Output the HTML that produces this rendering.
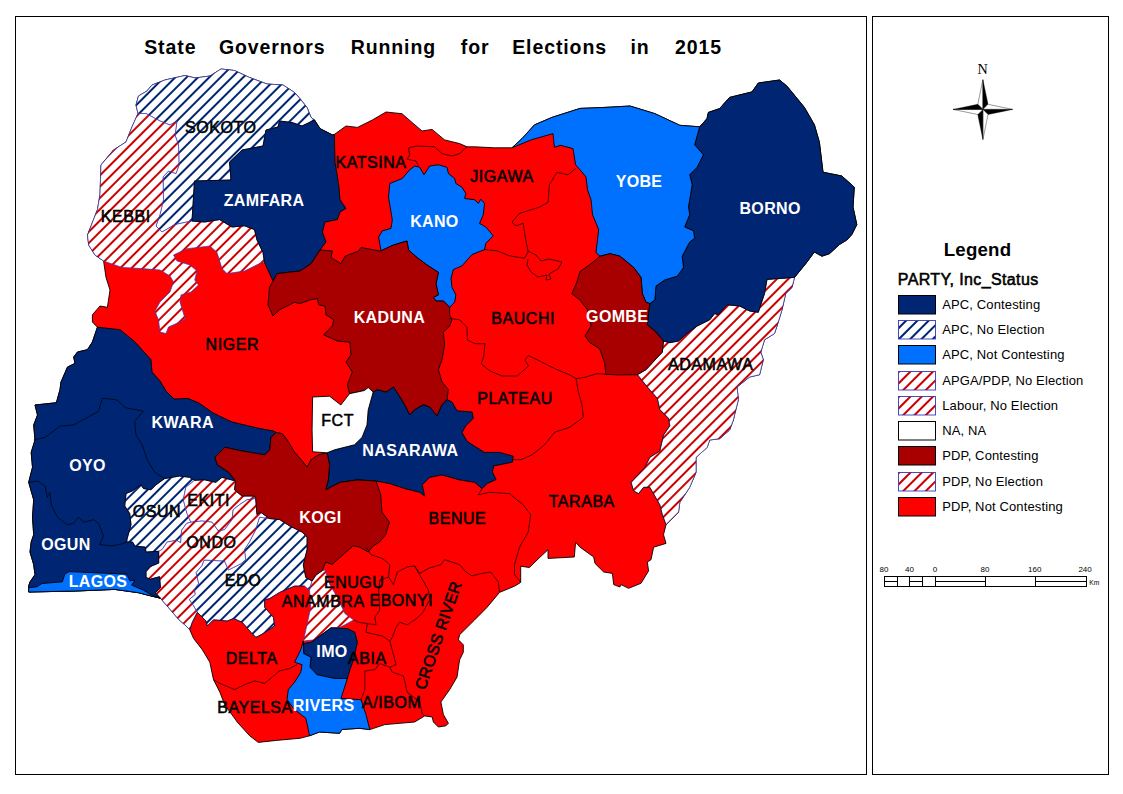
<!DOCTYPE html>
<html><head><meta charset="utf-8"><title>State Governors Running for Elections in 2015</title>
<style>
html,body{margin:0;padding:0;background:#fff;}
body{width:1123px;height:794px;overflow:hidden;position:relative;font-family:"Liberation Sans",sans-serif;}
svg{position:absolute;left:0;top:0;}
text{font-family:"Liberation Sans",sans-serif;}
.lk{font-size:16px;fill:#000;stroke:#000;stroke-width:0.55px;text-anchor:middle;dominant-baseline:central;letter-spacing:0.55px;}
.lw{font-size:16px;fill:#fff;font-weight:bold;text-anchor:middle;dominant-baseline:central;letter-spacing:0.35px;}
.title{font-size:19.5px;font-weight:bold;letter-spacing:0.9px;}
.lg1{font-size:18.67px;font-weight:bold;text-anchor:middle;letter-spacing:0.2px;}
.lg2{font-size:16px;stroke:#000;stroke-width:0.55px;letter-spacing:0.38px;}
.li{font-size:13px;letter-spacing:0.13px;}
.sc{font-size:8px;text-anchor:middle;}
.km{font-size:6.67px;}
.nn{font-family:"Liberation Serif",serif;font-size:14.2px;text-anchor:middle;}
</style></head><body>
<svg width="1123" height="794" viewBox="0 0 1123 794">
<rect x="15.5" y="16.5" width="851" height="758" fill="#fff" stroke="#000" stroke-width="1"/>
<rect x="872.5" y="16.5" width="236" height="758" fill="#fff" stroke="#000" stroke-width="1"/>
<text x="144.2" y="54.4" class="title">State</text><text x="218.9" y="54.4" class="title">Governors</text><text x="350.7" y="54.4" class="title">Running</text><text x="460.8" y="54.4" class="title">for</text><text x="512.2" y="54.4" class="title">Elections</text><text x="630.4" y="54.4" class="title">in</text><text x="675" y="54.4" class="title">2015</text>
<defs>
<pattern id="hn" width="8" height="8" patternUnits="userSpaceOnUse" patternTransform="rotate(-45) translate(0,-1.35)"><rect width="8" height="8" fill="#fff"/><line x1="-1" y1="4" x2="9" y2="4" stroke="#002673" stroke-width="2.05"/></pattern>
<pattern id="hr" width="8" height="8" patternUnits="userSpaceOnUse" patternTransform="rotate(-45) translate(0,-1.35)"><rect width="8" height="8" fill="#fff"/><line x1="-1" y1="4" x2="9" y2="4" stroke="#CC0000" stroke-width="2.05"/></pattern>
</defs>
<polygon points="138.0,113.5 136.0,105.0 138.5,96.0 147.0,91.0 152.0,85.0 165.0,80.0 185.0,75.5 195.0,78.0 210.0,76.0 221.0,69.0 234.5,70.5 249.5,77.5 267.0,84.0 283.0,85.0 294.5,92.5 300.0,98.7 307.0,107.5 311.0,117.4 314.5,120.0 320.0,128.6 332.4,134.9 334.4,134.4 346.0,126.0 357.4,127.4 372.3,120.0 386.0,112.0 402.0,113.7 412.0,122.4 422.0,131.0 432.0,129.4 444.6,139.9 459.6,143.6 467.0,146.8 474.6,146.8 494.5,147.8 512.0,147.8 522.0,138.6 534.4,124.9 551.9,117.4 580.0,108.4 605.0,107.4 630.0,106.0 654.8,113.6 679.8,125.3 699.7,126.8 707.0,118.6 708.4,112.4 719.6,108.6 729.6,97.4 752.0,91.9 758.3,83.0 779.5,80.0 787.0,86.2 804.4,107.4 814.4,124.8 819.4,142.3 823.0,172.2 841.8,176.0 854.3,187.2 853.0,207.0 856.8,224.6 851.8,234.6 846.8,240.0 839.4,244.5 829.4,253.7 821.9,256.2 814.4,252.0 805.7,263.7 794.5,277.4 792.0,287.4 785.7,293.6 782.0,309.8 777.0,326.0 774.5,333.5 764.5,339.8 760.8,352.2 763.3,359.7 759.6,374.7 749.6,377.0 737.0,387.0 738.4,399.6 734.6,414.6 733.4,420.0 729.6,430.0 719.6,438.7 709.7,440.0 707.2,447.4 696.0,457.4 696.0,472.4 689.7,487.3 679.8,502.3 678.5,512.3 666.0,524.7 663.5,534.7 666.0,543.4 653.6,547.2 651.0,559.7 647.3,562.0 648.6,570.9 641.0,583.3 628.6,588.3 621.0,584.6 619.9,587.0 613.7,584.6 612.4,573.4 603.7,572.0 595.0,563.4 593.7,557.0 580.0,547.2 575.6,542.2 574.3,557.0 548.0,558.4 548.0,549.7 537.0,560.0 529.4,567.5 520.7,566.2 520.7,582.4 514.5,586.2 499.5,592.4 487.0,607.4 474.6,619.9 459.6,634.8 458.4,639.8 463.3,644.8 463.3,652.3 459.6,659.8 457.0,677.2 449.6,689.7 440.9,702.0 443.4,714.6 448.4,723.3 445.9,725.8 438.4,727.0 433.4,722.0 432.2,717.0 424.7,715.9 414.7,722.0 399.8,723.3 384.8,724.6 369.8,729.6 359.4,728.3 342.0,729.5 339.5,733.3 319.5,732.0 309.5,735.8 300.0,738.3 276.3,740.4 258.3,742.4 249.7,735.8 237.2,722.0 224.7,704.6 219.8,692.0 213.5,679.7 209.8,662.2 202.3,649.7 193.6,638.5 189.8,629.8 184.8,624.8 179.0,619.8 168.9,608.0 160.4,598.2 150.0,595.7 138.4,592.7 114.7,589.4 75.8,591.0 28.7,592.0 28.7,585.8 30.0,582.0 35.0,574.6 33.7,564.6 30.0,552.0 31.2,542.0 33.7,534.7 32.5,517.2 33.7,499.8 28.7,482.3 32.5,467.3 31.2,452.4 35.0,440.0 33.7,425.0 37.5,415.0 35.0,405.0 56.4,402.7 60.0,389.6 61.0,382.0 67.5,367.0 75.0,363.4 73.7,357.0 77.5,352.0 87.4,349.7 92.4,342.0 97.4,327.2 92.4,322.0 92.4,314.8 100.0,306.0 107.4,307.3 110.0,290.0 106.0,277.4 103.6,261.0 95.0,255.0 88.7,245.0 87.5,235.0 97.5,209.5 100.0,194.5 101.0,165.0 113.5,150.0 126.0,142.0 132.0,127.0" fill="#FF0000" stroke="#000" stroke-width="0.9" stroke-linejoin="round"/>
<polygon points="138.0,113.5 136.0,105.0 138.5,96.0 147.0,91.0 152.0,85.0 165.0,80.0 185.0,75.5 195.0,78.0 210.0,76.0 221.0,69.0 234.5,70.5 249.5,77.5 267.0,84.0 283.0,85.0 294.5,92.5 300.0,98.7 307.0,107.5 311.0,117.4 314.5,120.0 302.0,126.0 292.0,122.5 279.5,121.0 278.0,127.0 266.0,130.0 263.0,146.0 242.0,150.0 229.5,162.0 231.0,180.0 194.5,181.0 192.0,221.0 175.0,224.5 162.0,232.0 156.0,226.0 160.0,214.5 163.5,199.5 163.0,177.0 168.5,171.0 176.0,173.5 179.0,165.0 178.5,145.0 175.0,135.0 177.0,121.0 170.0,125.0 160.0,121.0 146.0,113.5" fill="url(#hn)" stroke="#3838B8" stroke-width="0.7" stroke-linejoin="round"/>
<polygon points="126.0,493.5 132.2,491.0 141.0,484.8 143.4,488.5 151.0,489.8 156.0,484.8 164.6,478.6 179.6,476.0 189.6,477.3 194.6,480.3 185.8,487.3 183.3,499.8 187.0,513.5 190.8,522.2 186.7,523.4 181.6,530.2 180.7,542.8 176.5,540.3 167.2,542.0 162.0,549.6 158.7,551.3 146.0,552.1 145.2,547.1 135.0,546.2 132.5,542.0 126.6,542.0 127.2,538.4 131.0,524.7 129.7,513.5 124.7,506.0" fill="url(#hn)" stroke="#3838B8" stroke-width="0.7" stroke-linejoin="round"/>
<polygon points="269.4,518.5 279.7,519.6 289.7,525.9 302.1,532.1 307.1,537.1 307.1,549.6 303.3,565.0 305.8,577.4 312.0,581.0 309.5,589.9 304.5,586.1 294.6,586.1 279.6,592.4 269.6,598.6 264.6,599.9 264.6,607.3 273.4,617.3 274.6,626.0 263.4,633.5 255.9,637.3 250.9,632.3 242.2,622.3 233.5,618.5 227.2,621.0 213.5,619.8 207.3,626.0 206.0,621.0 197.3,612.3 193.0,605.0 189.2,599.5 195.1,594.5 194.3,589.4 198.5,583.5 196.0,572.5 201.9,565.7 204.0,560.0 224.5,561.0 228.5,569.9 233.5,567.4 241.0,563.7 245.7,559.6 244.4,549.6 249.4,542.0 255.7,529.7 259.4,517.2" fill="url(#hn)" stroke="#3838B8" stroke-width="0.7" stroke-linejoin="round"/>
<polygon points="138.0,113.5 146.0,113.5 160.0,121.0 170.0,125.0 177.0,121.0 175.0,135.0 178.5,145.0 179.0,165.0 176.0,173.5 168.5,171.0 163.0,177.0 163.5,199.5 160.0,214.5 156.0,226.0 162.0,232.0 175.0,224.5 192.0,221.0 204.6,222.0 219.6,219.6 232.0,227.0 244.5,225.8 254.5,229.6 257.0,240.0 263.0,252.4 264.5,262.4 259.5,263.6 244.5,271.0 227.0,273.6 222.0,268.6 217.0,252.4 210.0,246.0 187.0,248.7 173.5,255.0 177.0,261.0 190.0,265.0 197.0,271.0 194.7,280.0 198.4,285.0 191.0,292.0 181.0,295.0 180.0,302.0 185.0,318.5 182.0,321.0 168.5,327.0 166.0,333.5 160.0,332.0 158.5,320.0 155.0,311.0 160.0,302.0 170.0,292.0 173.5,282.0 170.0,276.0 160.0,270.0 142.0,268.6 122.0,267.4 103.6,261.0 95.0,255.0 88.7,245.0 87.5,235.0 97.5,209.5 100.0,194.5 101.0,165.0 113.5,150.0 126.0,142.0 132.0,127.0" fill="url(#hr)" stroke="#3838B8" stroke-width="0.7" stroke-linejoin="round"/>
<polygon points="194.6,480.3 204.5,479.8 215.8,482.3 222.0,477.3 235.7,481.0 234.5,489.8 242.0,496.0 254.4,496.0 255.7,498.5 247.0,499.8 239.5,504.7 233.2,509.7 232.0,519.7 224.5,529.7 218.3,531.0 212.0,522.2 202.0,521.0 190.8,522.2 187.0,513.5 183.3,499.8 185.8,487.3" fill="url(#hr)" stroke="#3838B8" stroke-width="0.7" stroke-linejoin="round"/>
<polygon points="190.8,522.2 202.0,521.0 212.0,522.2 218.3,531.0 224.5,529.7 232.0,519.7 233.2,509.7 239.5,504.7 247.0,499.8 255.7,498.5 257.0,514.7 260.6,512.2 269.4,518.5 259.4,517.2 255.7,529.7 249.4,542.0 244.4,549.6 245.7,559.6 241.0,563.7 233.5,567.4 228.5,569.9 224.5,561.0 204.0,560.0 201.9,565.7 196.0,572.5 198.5,583.5 194.3,589.4 195.1,594.5 189.2,599.5 193.0,605.0 197.3,612.3 192.3,622.3 189.8,629.8 184.8,624.8 179.0,619.8 168.9,608.0 160.4,598.2 155.3,592.7 160.4,587.7 159.6,576.7 150.3,579.2 146.0,577.5 146.0,571.6 150.3,566.5 158.7,563.1 158.7,551.3 162.0,549.6 167.2,542.0 176.5,540.3 180.7,542.8 181.6,530.2 186.7,523.4" fill="url(#hr)" stroke="#3838B8" stroke-width="0.7" stroke-linejoin="round"/>
<polygon points="325.0,570.0 322.1,570.8 316.0,575.0 312.0,581.0 309.5,589.9 310.8,607.3 307.0,624.8 303.3,641.0 314.5,639.8 324.5,632.3 331.0,627.8 339.9,627.3 344.9,624.8 353.6,619.9 344.9,613.6 337.4,597.4 330.0,585.0" fill="url(#hr)" stroke="#3838B8" stroke-width="0.7" stroke-linejoin="round"/>
<polygon points="794.5,277.4 792.0,287.4 785.7,293.6 782.0,309.8 777.0,326.0 774.5,333.5 764.5,339.8 760.8,352.2 763.3,359.7 759.6,374.7 749.6,377.0 737.0,387.0 738.4,399.6 734.6,414.6 733.4,420.0 729.6,430.0 719.6,438.7 709.7,440.0 707.2,447.4 696.0,457.4 696.0,472.4 689.7,487.3 679.8,502.3 678.5,512.3 666.0,524.7 662.3,514.8 659.8,504.8 649.8,487.3 643.6,487.3 638.6,493.6 633.6,491.0 631.0,482.3 644.8,467.4 649.8,457.4 659.8,451.0 663.5,435.0 669.8,425.8 668.5,418.3 659.8,409.6 657.3,398.4 647.3,387.0 637.4,374.7 646.0,369.7 662.3,352.2 663.5,341.0 669.8,342.7 678.5,341.0 687.2,333.5 697.2,326.0 709.7,319.8 714.7,313.6 718.4,314.8 727.0,304.8 739.6,306.0 749.6,311.0 758.3,312.3 764.5,293.6 767.0,279.4" fill="url(#hr)" stroke="#3838B8" stroke-width="0.7" stroke-linejoin="round"/>
<polygon points="314.5,120.0 320.0,128.6 332.4,134.9 334.4,134.4 335.0,162.3 338.7,184.7 340.0,199.7 346.0,208.4 340.0,212.0 337.4,219.6 325.0,222.0 322.4,232.0 326.0,242.0 320.0,250.0 311.0,263.7 300.0,271.0 277.0,273.6 273.0,281.0 264.5,262.4 263.0,252.4 257.0,240.0 254.5,229.6 244.5,225.8 232.0,227.0 219.6,219.6 204.6,222.0 192.0,221.0 194.5,181.0 231.0,180.0 229.5,162.0 242.0,150.0 263.0,146.0 266.0,130.0 278.0,127.0 279.5,121.0 292.0,122.5 302.0,126.0" fill="#002673" stroke="#000" stroke-width="0.9" stroke-linejoin="round"/>
<polygon points="699.7,126.8 707.0,118.6 708.4,112.4 719.6,108.6 729.6,97.4 752.0,91.9 758.3,83.0 779.5,80.0 787.0,86.2 804.4,107.4 814.4,124.8 819.4,142.3 823.0,172.2 841.8,176.0 854.3,187.2 853.0,207.0 856.8,224.6 851.8,234.6 846.8,240.0 839.4,244.5 829.4,253.7 821.9,256.2 814.4,252.0 805.7,263.7 794.5,277.4 767.0,279.4 764.5,293.6 758.3,312.3 749.6,311.0 739.6,306.0 727.0,304.8 718.4,314.8 714.7,313.6 709.7,319.8 697.2,326.0 687.2,333.5 678.5,341.0 669.8,342.7 663.5,341.0 654.8,331.0 647.3,324.8 648.6,312.3 649.8,303.6 654.8,299.9 656.0,286.0 664.8,279.9 677.3,276.2 683.5,267.4 682.2,256.2 689.7,242.0 694.7,238.3 693.5,230.8 684.7,227.0 689.7,214.6 688.5,207.0 692.2,184.7 689.7,174.7 697.2,167.2 703.4,154.8 694.7,144.8" fill="#002673" stroke="#000" stroke-width="0.9" stroke-linejoin="round"/>
<polygon points="373.2,392.0 377.3,389.6 386.0,392.0 393.5,387.0 398.5,394.6 404.7,404.6 409.7,414.6 414.7,409.6 423.4,404.6 429.7,407.0 437.0,415.8 442.0,404.6 447.0,399.6 452.0,402.0 457.0,410.8 472.0,412.0 473.3,418.3 465.8,425.8 462.0,432.5 467.0,441.2 474.6,446.2 484.5,452.4 499.5,452.4 513.2,456.2 512.3,462.2 493.6,465.9 492.4,472.1 496.1,479.6 487.4,483.4 482.0,488.6 474.6,482.3 459.6,479.9 442.0,474.9 429.7,477.4 422.2,484.8 424.7,496.0 419.7,492.3 404.7,488.6 389.8,483.6 376.0,481.0 357.4,479.9 340.0,482.3 325.8,489.7 328.3,479.8 329.6,464.8 327.1,452.8 334.6,449.8 354.5,444.8 362.0,437.4 367.0,424.9 368.2,410.0" fill="#002673" stroke="#000" stroke-width="0.9" stroke-linejoin="round"/>
<polygon points="97.4,327.2 120.0,329.7 135.0,342.0 151.0,359.7 152.0,372.0 160.0,381.0 166.0,391.0 174.0,399.0 188.0,398.5 199.0,403.0 213.0,413.0 232.0,422.0 260.0,428.6 273.5,431.0 276.0,432.4 271.0,437.4 269.7,449.8 264.7,454.8 242.3,451.0 224.8,447.3 214.9,457.3 217.4,464.8 228.6,472.3 235.7,481.0 222.0,477.3 215.8,482.3 204.5,479.8 194.6,480.3 189.6,477.3 179.6,476.0 164.6,478.6 156.0,484.8 151.0,489.8 143.4,488.5 141.0,484.8 132.2,491.0 126.0,493.5 124.7,506.0 129.7,513.5 131.0,524.7 127.2,538.4 126.6,542.0 132.5,542.0 135.0,546.2 145.2,547.1 146.0,552.1 158.7,551.3 158.7,563.1 150.3,566.5 146.0,571.6 146.0,577.5 150.3,579.2 159.6,576.7 160.4,587.7 155.3,592.7 160.4,598.2 150.0,595.7 138.4,592.7 114.7,589.4 75.8,591.0 28.7,592.0 28.7,585.8 30.0,582.0 35.0,574.6 33.7,564.6 30.0,552.0 31.2,542.0 33.7,534.7 32.5,517.2 33.7,499.8 28.7,482.3 32.5,467.3 31.2,452.4 35.0,440.0 33.7,425.0 37.5,415.0 35.0,405.0 56.4,402.7 60.0,389.6 61.0,382.0 67.5,367.0 75.0,363.4 73.7,357.0 77.5,352.0 87.4,349.7 92.4,342.0" fill="#002673" stroke="#000" stroke-width="0.9" stroke-linejoin="round"/>
<polygon points="303.7,643.5 311.0,642.3 325.0,632.3 331.0,627.8 347.4,628.6 354.9,632.3 357.4,642.3 353.6,659.8 349.9,669.7 347.4,678.5 334.5,678.4 325.0,677.2 317.0,674.7 313.7,673.5 310.0,667.2 311.0,657.3 303.7,653.5" fill="#002673" stroke="#000" stroke-width="0.9" stroke-linejoin="round"/>
<polygon points="381.0,250.8 378.6,237.0 382.3,230.9 391.0,228.4 392.3,219.7 388.5,197.2 389.8,183.5 402.2,178.5 409.7,169.8 414.7,166.0 419.7,167.3 424.0,174.8 429.7,166.0 438.4,164.8 447.0,167.3 448.4,173.5 454.6,178.5 455.9,183.5 462.0,187.2 465.8,193.5 464.6,198.5 474.6,199.7 478.3,203.4 480.8,199.2 484.5,203.4 483.3,214.7 479.6,223.4 485.8,227.0 493.3,235.9 485.8,243.3 484.5,249.6 478.3,252.0 472.0,254.6 462.0,265.8 453.4,269.5 451.0,278.0 452.0,287.4 455.9,294.9 454.6,302.3 449.6,307.3 443.4,301.0 436.0,301.0 433.4,297.4 438.4,294.9 436.0,283.6 438.4,272.4 427.0,265.0 417.0,257.5 408.5,250.0 407.0,241.0 393.5,245.0" fill="#0070FF" stroke="#000" stroke-width="0.9" stroke-linejoin="round"/>
<polygon points="512.0,147.8 522.0,138.6 534.4,124.9 551.9,117.4 580.0,108.4 605.0,107.4 630.0,106.0 654.8,113.6 679.8,125.3 699.7,126.8 694.7,144.8 703.4,154.8 697.2,167.2 689.7,174.7 692.2,184.7 688.5,207.0 689.7,214.6 684.7,227.0 693.5,230.8 694.7,238.3 689.7,242.0 682.2,256.2 683.5,267.4 677.3,276.2 664.8,279.9 656.0,286.0 654.8,299.9 649.8,303.6 646.0,302.3 642.3,293.6 641.0,277.4 633.6,267.4 619.9,256.2 610.0,253.7 600.0,256.2 596.0,252.5 598.7,229.6 592.5,214.6 591.0,199.7 587.5,189.7 586.0,177.0 580.0,169.7 575.6,164.8 573.0,148.6 560.6,145.3 554.4,147.3 553.0,133.6 531.0,139.9" fill="#0070FF" stroke="#000" stroke-width="0.9" stroke-linejoin="round"/>
<polygon points="28.7,587.7 36.9,586.8 42.0,583.5 62.3,581.8 64.8,574.1 69.0,571.6 126.6,574.1 130.0,580.9 135.0,580.0 131.7,585.1 143.5,590.2 150.3,594.4 160.4,598.2 150.0,595.7 138.4,592.7 114.7,589.4 75.8,591.0 28.7,592.0" fill="#0070FF" stroke="#000" stroke-width="0.9" stroke-linejoin="round"/>
<polygon points="303.3,641.0 303.7,653.5 311.0,657.3 310.0,667.2 317.0,674.7 334.5,678.4 347.4,678.5 341.0,698.4 361.0,699.7 366.0,714.6 369.8,729.6 359.4,728.3 342.0,729.5 339.5,733.3 319.5,732.0 309.5,735.8 308.3,729.5 305.8,718.3 294.6,709.6 287.0,699.6 288.3,689.6 294.6,682.2 300.8,672.2 302.0,664.7 294.6,662.2 297.0,657.2 300.8,649.7" fill="#0070FF" stroke="#000" stroke-width="0.9" stroke-linejoin="round"/>
<polygon points="320.0,250.0 332.4,251.0 331.0,257.5 341.0,263.7 345.0,256.2 358.6,251.0 361.0,247.5 379.8,251.0 381.0,250.8 393.5,245.0 407.0,241.0 408.5,250.0 417.0,257.5 427.0,265.0 438.4,272.4 436.0,283.6 438.4,294.9 433.4,297.4 436.0,301.0 443.4,301.0 449.6,307.3 449.6,314.8 452.0,319.8 449.6,326.0 443.4,332.3 444.6,344.7 442.0,359.7 438.4,369.7 442.0,382.0 448.4,389.6 447.0,399.6 442.0,404.6 437.0,415.8 429.7,407.0 423.4,404.6 414.7,409.6 409.7,414.6 404.7,404.6 398.5,394.6 393.5,387.0 386.0,392.0 377.3,389.6 373.2,392.0 368.2,387.5 364.5,390.5 349.5,393.7 347.4,384.6 352.4,372.0 346.0,362.0 351.0,354.7 349.9,342.2 337.4,341.0 323.7,334.8 332.4,326.0 333.7,319.8 326.0,314.8 325.0,306.0 318.7,304.8 317.5,298.6 310.0,299.9 300.0,303.6 294.4,302.3 279.5,309.8 273.0,316.0 268.0,304.8 269.5,287.3 273.0,281.0 277.0,273.6 300.0,271.0 311.0,263.7" fill="#A80000" stroke="#000" stroke-width="0.9" stroke-linejoin="round"/>
<polygon points="600.0,256.2 610.0,253.7 619.9,256.2 633.6,267.4 641.0,277.4 642.3,293.6 646.0,302.3 649.8,303.6 648.6,312.3 647.3,324.8 654.8,331.0 663.5,341.0 662.3,352.2 646.0,369.7 637.4,374.7 619.6,374.9 605.8,374.4 604.6,362.4 599.6,348.7 589.6,342.5 585.0,336.0 591.0,326.0 587.5,309.8 580.0,300.0 571.8,293.6 576.8,282.4 580.0,271.5 591.0,263.7" fill="#A80000" stroke="#000" stroke-width="0.9" stroke-linejoin="round"/>
<polygon points="276.0,432.4 282.2,433.6 287.2,439.9 294.7,452.3 303.4,462.3 307.1,467.3 310.9,459.8 318.4,454.8 327.1,452.8 329.6,464.8 328.3,479.8 325.8,489.7 340.0,482.3 357.4,479.9 376.0,481.0 380.7,494.7 382.0,512.2 389.4,522.1 385.7,534.6 379.5,542.1 373.2,545.8 368.2,552.0 359.5,547.1 353.3,545.8 344.5,553.3 332.1,564.5 325.8,562.0 322.1,570.8 316.0,575.0 312.0,581.0 305.8,577.4 303.3,565.0 307.1,549.6 307.1,537.1 302.1,532.1 289.7,525.9 279.7,519.6 269.4,518.5 260.6,512.2 257.0,514.7 255.7,498.5 254.4,496.0 242.0,496.0 234.5,489.8 235.7,481.0 228.6,472.3 217.4,464.8 214.9,457.3 224.8,447.3 242.3,451.0 264.7,454.8 269.7,449.8 271.0,437.4" fill="#A80000" stroke="#000" stroke-width="0.9" stroke-linejoin="round"/>
<polygon points="349.5,393.7 364.5,390.5 368.2,387.5 373.2,392.0 368.2,410.0 367.0,424.9 362.0,437.4 354.5,444.8 334.6,449.8 327.1,452.8 312.6,451.8 312.1,429.9 312.6,397.0 329.6,396.2 340.8,405.0" fill="#fff" stroke="#000" stroke-width="0.9" stroke-linejoin="round"/>
<polyline points="467,146.8 459.6,153.6 452,156 442,153.6 434.7,146.8 417.2,146 408.5,147.8 409.7,154.8 407.2,159.3 416,161 418.5,166" fill="none" stroke="#000" stroke-width="0.7" stroke-linejoin="round"/>
<polyline points="575.6,168.5 568,174.8 556.9,172.3 549.4,184.7 548.1,202.2 539.4,207.2 519.5,213.4 512,222 515.7,225.9 523.2,223.4 525.7,239.6 528.2,252 524.4,258.3 509.5,255.8 497,250.8 484.5,249.6" fill="none" stroke="#000" stroke-width="0.7" stroke-linejoin="round"/>
<polyline points="528,251 536,255 541,261 549,259 562,262 558,269 549,274 551,279 546,280 547,275 538,277 531,272 527,265 528,259" fill="none" stroke="#000" stroke-width="0.7" stroke-linejoin="round"/>
<polyline points="449.6,318.5 459.6,319.8 467,327.3 467.4,340 475,343.7 485,343.7 483.6,357.4 481,363.7 490,371 502.3,376 517.3,376 528.5,366 524.8,360 528.5,355.7 539.8,361 554.7,368.6 569.7,374.9 576,378.6 584.6,377.4 597,373.6 605.8,374.4" fill="none" stroke="#000" stroke-width="0.7" stroke-linejoin="round"/>
<polyline points="576,378.6 578.4,392.3 582,404.8 583.4,417.3 569.7,427.3 554.7,432.2 544.7,444.7 532.3,454.7 521,459.7 512.3,459.7" fill="none" stroke="#000" stroke-width="0.7" stroke-linejoin="round"/>
<polyline points="482,488.6 478.3,494.8 489.5,492.3 509.5,493.6 523.2,504.8 530.7,514.8 528.2,532.2 519.5,547.2 514.5,564.6 514.5,574.6 520.7,582" fill="none" stroke="#000" stroke-width="0.7" stroke-linejoin="round"/>
<polyline points="366,547.2 371,554.7 382.3,558.4 389.8,564.6 388.5,577 393.5,584.6 397.3,572 407.2,567 414.7,565.9 419.7,573.4 428.4,568.4 440.9,564.6 444.6,559.7 459.6,564.6 465.8,572 472,575.9 482,573.4 490.8,572 498.3,582 499.5,592" fill="none" stroke="#000" stroke-width="0.7" stroke-linejoin="round"/>
<polyline points="414.7,566.2 419.7,575 428.4,589.9 429.7,599.9 422.2,613.6 414.7,619.9 407.2,624.8 399.8,622.3 396,627.3 392.3,637.3 389.8,641" fill="none" stroke="#000" stroke-width="0.7" stroke-linejoin="round"/>
<polyline points="388.5,577 379.8,580 378.6,592.4 379.8,609.9 374.8,617.4 376,624.8 367.3,623.6 366,632.3 382.3,636 389.8,641 393.5,654.8 396,664.7 389.8,667.2 392.3,672.2 403.5,676 407.2,692.2 419.7,702 422.2,713.4 424.7,715.9" fill="none" stroke="#000" stroke-width="0.7" stroke-linejoin="round"/>
<polyline points="389.8,667.2 379.8,663.5 374.8,669.7 364.8,671 364.8,689.7 361,699.7" fill="none" stroke="#000" stroke-width="0.7" stroke-linejoin="round"/>
<polyline points="353.6,619.9 358.6,622.3 367.3,623.6" fill="none" stroke="#000" stroke-width="0.7" stroke-linejoin="round"/>
<polyline points="213.5,679.7 219.8,683.4 234.7,689.6 244.7,684.6 254.7,680.9 264.6,683.4 279.6,670.9 289.6,668.4 297,664.7" fill="none" stroke="#000" stroke-width="0.7" stroke-linejoin="round"/>
<polyline points="33.7,440 45,437.4 59.9,426.2 73.6,424.9 87.3,417.5 98.6,411.2 102.4,398.3 113.6,399.5 117.3,400 124.7,407.5 143.4,411.2 134.7,421.2 136,434.9 142.2,444.9 147.2,459.9 154.7,472.3 164.6,478.6" fill="none" stroke="#000" stroke-width="0.7" stroke-linejoin="round"/>
<polyline points="28.7,482.3 37.5,481 45,486 47.4,497.3 50,492.3 51.2,504.7 57.4,517.2 67.4,524.7 73.6,523.4 78.6,517.2 83.6,522.2 93.6,519.7 98.6,523.4 103.5,535.9 99.8,544.6 112.3,545.9 122.2,543.8 126.6,542" fill="none" stroke="#000" stroke-width="0.7" stroke-linejoin="round"/>
<polyline points="666.0,524.7 662.3,514.8 659.8,504.8 649.8,487.3 643.6,487.3 638.6,493.6 633.6,491.0 631.0,482.3 644.8,467.4 649.8,457.4 659.8,451.0 663.5,435.0 669.8,425.8 668.5,418.3 659.8,409.6 657.3,398.4 647.3,387.0 637.4,374.7" fill="none" stroke="#000" stroke-width="0.7" stroke-linejoin="round"/>
<polyline points="304.5,586.1 294.6,586.1 279.6,592.4 269.6,598.6 264.6,599.9 264.6,607.3 273.4,617.3 274.6,626.0 263.4,633.5 255.9,637.3 250.9,632.3 242.2,622.3 233.5,618.5 227.2,621.0 213.5,619.8 207.3,626.0 206.0,621.0 197.3,612.3" fill="none" stroke="#000" stroke-width="0.7" stroke-linejoin="round"/>
<polyline points="197.3,612.3 192.3,622.3 189.8,629.8" fill="none" stroke="#000" stroke-width="0.7" stroke-linejoin="round"/>
<text x="220.8" y="127.3" class="lk">SOKOTO</text>
<text x="125.7" y="216.7" class="lk">KEBBI</text>
<text x="264.1" y="200.9" class="lw">ZAMFARA</text>
<text x="371" y="162" class="lk">KATSINA</text>
<text x="434.4" y="221.8" class="lw">KANO</text>
<text x="502" y="176.3" class="lk">JIGAWA</text>
<text x="639" y="181.8" class="lw">YOBE</text>
<text x="770.1" y="208" class="lw">BORNO</text>
<text x="389.4" y="317" class="lw">KADUNA</text>
<text x="523.2" y="318.2" class="lk">BAUCHI</text>
<text x="617.2" y="316" class="lw">GOMBE</text>
<text x="710.7" y="364.1" class="lk">ADAMAWA</text>
<text x="232.3" y="344.1" class="lk">NIGER</text>
<text x="515" y="398" class="lk">PLATEAU</text>
<text x="337.6" y="420.1" class="lk">FCT</text>
<text x="182.7" y="422" class="lw">KWARA</text>
<text x="410.4" y="450.9" class="lw">NASARAWA</text>
<text x="87.5" y="465.2" class="lw">OYO</text>
<text x="156.9" y="511.9" class="lk">OSUN</text>
<text x="208.7" y="500.1" class="lk">EKITI</text>
<text x="320.5" y="517.4" class="lw">KOGI</text>
<text x="457.4" y="518.1" class="lk">BENUE</text>
<text x="581.8" y="501.1" class="lk">TARABA</text>
<text x="211.4" y="542.5" class="lk">ONDO</text>
<text x="65.9" y="544.3" class="lw">OGUN</text>
<text x="98" y="581.7" class="lw">LAGOS</text>
<text x="243" y="580.4" class="lk">EDO</text>
<text x="354.2" y="582.2" class="lk">ENUGU</text>
<text x="323.2" y="601.3" class="lk">ANAMBRA</text>
<text x="401.3" y="600.6" class="lk">EBONYI</text>
<text x="332" y="651" class="lw">IMO</text>
<text x="367.3" y="658.5" class="lk">ABIA</text>
<text x="251.7" y="658.1" class="lk">DELTA</text>
<text x="323.6" y="705" class="lw">RIVERS</text>
<text x="391.7" y="702.5" class="lk">A/IBOM</text>
<text x="255" y="707.5" class="lk">BAYELSA</text>
<text x="438.2" y="635.4" class="lk" style="letter-spacing:0.3px" transform="rotate(-71 438.2 635.4)">CROSS RIVER</text>
<polygon points="982.9,79.7 977.8,104.3 982.9,109.4" fill="#fff" stroke="#000" stroke-width="0.4" stroke-linejoin="miter"/>
<polygon points="982.9,79.7 988.0,104.3 982.9,109.4" fill="#000" stroke="#000" stroke-width="0.4" stroke-linejoin="miter"/>
<polygon points="1012.6,109.4 988.0,104.3 982.9,109.4" fill="#fff" stroke="#000" stroke-width="0.4" stroke-linejoin="miter"/>
<polygon points="1012.6,109.4 988.0,114.5 982.9,109.4" fill="#000" stroke="#000" stroke-width="0.4" stroke-linejoin="miter"/>
<polygon points="982.9,139.5 988.0,114.5 982.9,109.4" fill="#fff" stroke="#000" stroke-width="0.4" stroke-linejoin="miter"/>
<polygon points="982.9,139.5 977.8,114.5 982.9,109.4" fill="#000" stroke="#000" stroke-width="0.4" stroke-linejoin="miter"/>
<polygon points="953.0,109.4 977.8,114.5 982.9,109.4" fill="#fff" stroke="#000" stroke-width="0.4" stroke-linejoin="miter"/>
<polygon points="953.0,109.4 977.8,104.3 982.9,109.4" fill="#000" stroke="#000" stroke-width="0.4" stroke-linejoin="miter"/>
<text x="982.7" y="74.4" class="nn">N</text>
<text x="977.5" y="255.5" class="lg1">Legend</text>
<text x="897.8" y="284.7" class="lg2">PARTY, Inc_Status</text>
<rect x="898.5" y="295.5" width="37" height="18.5" fill="#002673" stroke="#000" stroke-width="1"/>
<text x="942.2" y="308.7" class="li">APC, Contesting</text>
<svg x="898.5" y="320.5" width="37" height="18.5" overflow="hidden"><rect width="37" height="18.5" fill="#fff"/><line x1="-33.6" y1="30" x2="6.4" y2="-10" stroke="#002673" stroke-width="2.05"/><line x1="-22.3" y1="30" x2="17.7" y2="-10" stroke="#002673" stroke-width="2.05"/><line x1="-11.0" y1="30" x2="29.0" y2="-10" stroke="#002673" stroke-width="2.05"/><line x1="0.3" y1="30" x2="40.3" y2="-10" stroke="#002673" stroke-width="2.05"/><line x1="11.6" y1="30" x2="51.6" y2="-10" stroke="#002673" stroke-width="2.05"/><line x1="22.9" y1="30" x2="62.9" y2="-10" stroke="#002673" stroke-width="2.05"/><line x1="34.2" y1="30" x2="74.2" y2="-10" stroke="#002673" stroke-width="2.05"/><line x1="45.6" y1="30" x2="85.6" y2="-10" stroke="#002673" stroke-width="2.05"/></svg>
<rect x="898.5" y="320.5" width="37" height="18.5" fill="none" stroke="#3838B8" stroke-width="0.9"/>
<text x="942.2" y="333.7" class="li">APC, No Election</text>
<rect x="898.5" y="345.5" width="37" height="18.5" fill="#0070FF" stroke="#000" stroke-width="1"/>
<text x="942.2" y="358.7" class="li">APC, Not Contesting</text>
<svg x="898.5" y="371.5" width="37" height="18.5" overflow="hidden"><rect width="37" height="18.5" fill="#fff"/><line x1="-40.6" y1="30" x2="-0.6" y2="-10" stroke="#CC0000" stroke-width="2.05"/><line x1="-29.3" y1="30" x2="10.7" y2="-10" stroke="#CC0000" stroke-width="2.05"/><line x1="-18.0" y1="30" x2="22.0" y2="-10" stroke="#CC0000" stroke-width="2.05"/><line x1="-6.7" y1="30" x2="33.3" y2="-10" stroke="#CC0000" stroke-width="2.05"/><line x1="4.6" y1="30" x2="44.6" y2="-10" stroke="#CC0000" stroke-width="2.05"/><line x1="15.9" y1="30" x2="55.9" y2="-10" stroke="#CC0000" stroke-width="2.05"/><line x1="27.3" y1="30" x2="67.2" y2="-10" stroke="#CC0000" stroke-width="2.05"/><line x1="38.6" y1="30" x2="78.6" y2="-10" stroke="#CC0000" stroke-width="2.05"/></svg>
<rect x="898.5" y="371.5" width="37" height="18.5" fill="none" stroke="#3838B8" stroke-width="0.9"/>
<text x="942.2" y="384.7" class="li">APGA/PDP, No Election</text>
<svg x="898.5" y="396.5" width="37" height="18.5" overflow="hidden"><rect width="37" height="18.5" fill="#fff"/><line x1="-40.6" y1="30" x2="-0.6" y2="-10" stroke="#CC0000" stroke-width="2.05"/><line x1="-29.3" y1="30" x2="10.7" y2="-10" stroke="#CC0000" stroke-width="2.05"/><line x1="-18.0" y1="30" x2="22.0" y2="-10" stroke="#CC0000" stroke-width="2.05"/><line x1="-6.7" y1="30" x2="33.3" y2="-10" stroke="#CC0000" stroke-width="2.05"/><line x1="4.6" y1="30" x2="44.6" y2="-10" stroke="#CC0000" stroke-width="2.05"/><line x1="15.9" y1="30" x2="55.9" y2="-10" stroke="#CC0000" stroke-width="2.05"/><line x1="27.3" y1="30" x2="67.2" y2="-10" stroke="#CC0000" stroke-width="2.05"/><line x1="38.6" y1="30" x2="78.6" y2="-10" stroke="#CC0000" stroke-width="2.05"/></svg>
<rect x="898.5" y="396.5" width="37" height="18.5" fill="none" stroke="#3838B8" stroke-width="0.9"/>
<text x="942.2" y="409.7" class="li">Labour, No Election</text>
<rect x="898.5" y="421.5" width="37" height="18.5" fill="#fff" stroke="#000" stroke-width="1"/>
<text x="942.2" y="434.7" class="li">NA, NA</text>
<rect x="898.5" y="446.5" width="37" height="18.5" fill="#A80000" stroke="#000" stroke-width="1"/>
<text x="942.2" y="459.7" class="li">PDP, Contesting</text>
<svg x="898.5" y="472.5" width="37" height="18.5" overflow="hidden"><rect width="37" height="18.5" fill="#fff"/><line x1="-40.6" y1="30" x2="-0.6" y2="-10" stroke="#CC0000" stroke-width="2.05"/><line x1="-29.3" y1="30" x2="10.7" y2="-10" stroke="#CC0000" stroke-width="2.05"/><line x1="-18.0" y1="30" x2="22.0" y2="-10" stroke="#CC0000" stroke-width="2.05"/><line x1="-6.7" y1="30" x2="33.3" y2="-10" stroke="#CC0000" stroke-width="2.05"/><line x1="4.6" y1="30" x2="44.6" y2="-10" stroke="#CC0000" stroke-width="2.05"/><line x1="15.9" y1="30" x2="55.9" y2="-10" stroke="#CC0000" stroke-width="2.05"/><line x1="27.3" y1="30" x2="67.2" y2="-10" stroke="#CC0000" stroke-width="2.05"/><line x1="38.6" y1="30" x2="78.6" y2="-10" stroke="#CC0000" stroke-width="2.05"/></svg>
<rect x="898.5" y="472.5" width="37" height="18.5" fill="none" stroke="#3838B8" stroke-width="0.9"/>
<text x="942.2" y="485.7" class="li">PDP, No Election</text>
<rect x="898.5" y="497.5" width="37" height="18.5" fill="#FF0000" stroke="#000" stroke-width="1"/>
<text x="942.2" y="510.7" class="li">PDP, Not Contesting</text>
<rect x="884.5" y="576.5" width="202" height="10" fill="#fff" stroke="#000" stroke-width="1"/>
<line x1="897.5" y1="576.5" x2="897.5" y2="586.5" stroke="#000" stroke-width="1"/>
<line x1="909.5" y1="576.5" x2="909.5" y2="586.5" stroke="#000" stroke-width="1"/>
<line x1="922.5" y1="576.5" x2="922.5" y2="586.5" stroke="#000" stroke-width="1"/>
<line x1="935.5" y1="576.5" x2="935.5" y2="586.5" stroke="#000" stroke-width="1"/>
<line x1="985.5" y1="576.5" x2="985.5" y2="586.5" stroke="#000" stroke-width="1"/>
<line x1="1035.5" y1="576.5" x2="1035.5" y2="586.5" stroke="#000" stroke-width="1"/>
<line x1="884.5" y1="581.5" x2="897.5" y2="581.5" stroke="#000" stroke-width="1"/>
<line x1="909.5" y1="581.5" x2="922.5" y2="581.5" stroke="#000" stroke-width="1"/>
<line x1="935.5" y1="581.5" x2="985.5" y2="581.5" stroke="#000" stroke-width="1"/>
<line x1="1035.5" y1="581.5" x2="1086.5" y2="581.5" stroke="#000" stroke-width="1"/>
<text x="884" y="572" class="sc">80</text>
<text x="909.5" y="572" class="sc">40</text>
<text x="934.9" y="572" class="sc">0</text>
<text x="985" y="572" class="sc">80</text>
<text x="1034.8" y="572" class="sc">160</text>
<text x="1085.1" y="572" class="sc">240</text>
<text x="1089.3" y="585.2" class="km">Km</text>
</svg>
</body></html>
